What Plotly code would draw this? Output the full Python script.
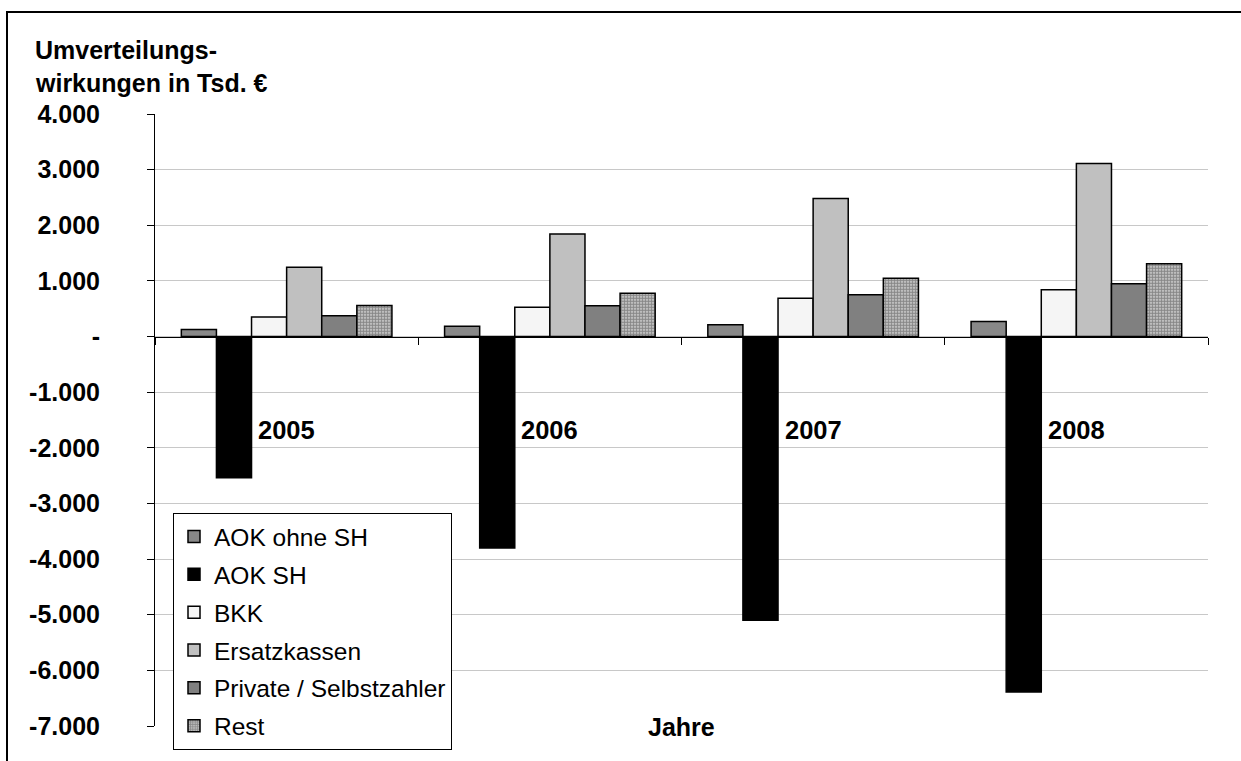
import plotly.graph_objects as go

years = ["2005", "2006", "2007", "2008"]
series_names = ["AOK ohne SH", "AOK SH", "BKK", "Ersatzkassen", "Private / Selbstzahler", "Rest"]
aok_ohne_sh = [125, 185, 210, 270]
aok_sh = [-2540, -3800, -5100, -6390]
bkk = [350, 525, 690, 840]
ersatzkassen = [1245, 1845, 2480, 3110]
private = [375, 555, 750, 950]
rest = [560, 780, 1050, 1310]
tick_vals = [4000, 3000, 2000, 1000, 0, -1000, -2000, -3000, -4000, -5000, -6000, -7000]
tick_text = ["4.000", "3.000", "2.000", "1.000", "-", "-1.000", "-2.000", "-3.000",
             "-4.000", "-5.000", "-6.000", "-7.000"]

FONT = "Liberation Sans, Arial, sans-serif"
values = [aok_ohne_sh, aok_sh, bkk, ersatzkassen, private, rest]
fills = ["#888888", "#000000", "#f5f5f5", "#c0c0c0", "#808080", "#ffffff"]

fig = go.Figure()
for i, (name, vals, col) in enumerate(zip(series_names, values, fills)):
    marker = dict(color=col, line=dict(color="#000000", width=1.5))
    if name == "Rest":
        marker["pattern"] = dict(shape=".", size=3, solidity=0.7,
                                 fgcolor="#303030", bgcolor="#e0e0e0")
    fig.add_trace(go.Bar(x=years, y=vals, name=name, marker=marker,
                         legendgroup=f"g{i}"))

# plot area geometry (pixels)
L, R, T, B = 155, 1208, 114, 726
W, H = R - L, B - T
def px(x):
    return (x - L) / W
def py(y):
    return (B - y) / H

annotations = [
    dict(text="<b>Umverteilungs-</b>", x=px(33), y=py(50), xref="paper", yref="paper",
         xanchor="left", yanchor="middle", showarrow=False,
         font=dict(family=FONT, size=25, color="#000")),
    dict(text="<b>wirkungen in Tsd. €</b>", x=px(33), y=py(83), xref="paper", yref="paper",
         xanchor="left", yanchor="middle", showarrow=False,
         font=dict(family=FONT, size=25, color="#000")),
    dict(text="<b>Jahre</b>", x=0.5, y=py(727), xref="paper", yref="paper",
         xanchor="center", yanchor="middle", showarrow=False,
         font=dict(family=FONT, size=25, color="#000")),
]
for idx, yr in enumerate(years):
    annotations.append(dict(text=f"<b>{yr}</b>", x=idx, y=py(430), xref="x", yref="paper",
                            xanchor="center", yanchor="middle", showarrow=False,
                            font=dict(family=FONT, size=25.5, color="#000")))

fig.update_layout(
    width=1241, height=761,
    margin=dict(l=L, r=1241 - R, t=T, b=761 - B, autoexpand=False),
    paper_bgcolor="#ffffff", plot_bgcolor="#ffffff",
    barmode="group", bargap=0.2, bargroupgap=0,
    font=dict(family=FONT, color="#000"),
    xaxis=dict(type="category", categoryorder="array", categoryarray=years,
               range=[-0.5, len(years) - 0.5], anchor="y",
               showline=False, showgrid=False, zeroline=False,
               ticks="", showticklabels=False, automargin=False),
    xaxis2=dict(type="category", categoryorder="array", categoryarray=years,
                range=[-0.5, len(years) - 0.5], anchor="free", position=7 / 11,
                overlaying="x", matches="x",
                showline=True, linecolor="#000", linewidth=1,
                ticks="outside", tickson="boundaries", ticklen=7, tickcolor="#000",
                showticklabels=False, showgrid=False, zeroline=False, automargin=False),
    yaxis=dict(range=[-7000, 4000], domain=[0, 1], tickvals=tick_vals, ticktext=tick_text,
               showline=True, linecolor="#000", linewidth=1,
               ticks="outside", ticklen=7, tickcolor="#000",
               showgrid=True, gridcolor="#c8c8c8", gridwidth=1, zeroline=False,
               ticklabelstandoff=42, automargin=False,
               tickfont=dict(family=FONT, size=25, color="#000", weight="bold")),
    legend=dict(x=px(173), y=py(750), xanchor="left", yanchor="bottom",
                bgcolor="#ffffff", bordercolor="#000", borderwidth=1,
                traceorder="grouped", tracegroupgap=3,
                font=dict(family=FONT, size=24.5, color="#000")),
    annotations=annotations,
    shapes=[dict(type="rect", xref="paper", yref="paper",
                 x0=px(7), x1=px(1300), y0=py(800), y1=py(12),
                 line=dict(color="#000", width=2), fillcolor="rgba(0,0,0,0)", layer="above")],
    showlegend=True,
)
# invisible helper trace so the boundary-tick axis at y=0 is drawn
fig.add_trace(go.Bar(x=years, y=[None] * len(years), xaxis="x2", showlegend=False,
                     hoverinfo="skip"))

fig.write_html("out.html", config={"displayModeBar": False},
               post_script="document.body.style.margin='0';document.body.style.overflow='hidden';")
